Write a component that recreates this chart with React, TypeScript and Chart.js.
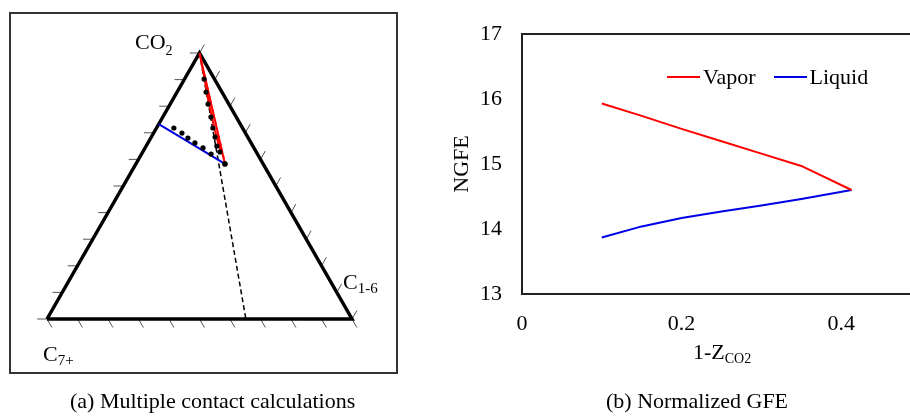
import React, { useEffect, useRef } from 'react';
import { Chart, registerables } from 'chart.js';

Chart.register(...registerables);

const FONT = '"Liberation Serif", "Times New Roman", serif';
const SQ = Math.sqrt(3) / 2;

// ---------- Panel (a): ternary diagram, compositions as fractions ----------
// Vertices: CO2 (top), C7+ (bottom-left), C1-6 (bottom-right); C7+ = 1 - CO2 - C1-6
const triangleCO2 = [0, 1, 0, 0];
const triangleC16 = [0, 0, 1, 0];

const vaporDotCO2 = [0.902, 0.853, 0.808, 0.759, 0.718, 0.684, 0.650, 0.628, 0.583];
const vaporDotC16 = [0.064, 0.095, 0.124, 0.158, 0.185, 0.209, 0.232, 0.253, 0.292];

const liquidDotCO2 = [0.718, 0.699, 0.680, 0.662, 0.643, 0.620, 0.583];
const liquidDotC16 = [0.057, 0.093, 0.122, 0.154, 0.190, 0.228, 0.292];

// red vapor envelope: CO2 apex -> critical point -> back up through vapor compositions
const vaporLoopCO2 = [1.0, 0.583, 0.625, 0.648, 0.683, 0.717, 0.758, 0.807, 0.852, 0.902, 1.0];
const vaporLoopC16 = [0.0, 0.292, 0.262, 0.240, 0.215, 0.190, 0.162, 0.128, 0.098, 0.066, 0.0];
const vaporInnerCO2 = [1.0, 0.605];
const vaporInnerC16 = [0.0, 0.278];

// blue liquid line
const liquidLineCO2 = [0.733, 0.583];
const liquidLineC16 = [0.0, 0.292];

// dilution line CO2 -> oil
const dilutionCO2 = [1.0, 0.0];
const dilutionC16 = [0.0, 0.652];

const tickFractions = [0, 0.1, 0.2, 0.3, 0.4, 0.5, 0.6, 0.7, 0.8, 0.9, 1.0];

// ---------- Panel (b): normalized GFE ----------
const vaporX = [0.1, 0.15, 0.2, 0.25, 0.3, 0.35, 0.413];
const vaporY = [15.93, 15.74, 15.54, 15.35, 15.16, 14.97, 14.6];
const liquidX = [0.1, 0.15, 0.2, 0.25, 0.3, 0.35, 0.413];
const liquidY = [13.87, 14.04, 14.17, 14.27, 14.36, 14.46, 14.6];
const seriesLabels = ['Vapor', 'Liquid'];
const seriesColors = ['#ff0000', '#0000e6'];
const xTickValues = [0, 0.2, 0.4];
const yTickValues = [13, 14, 15, 16, 17];

function toXY(co2: number[], c16: number[]) {
  return co2.map((c, i) => ({ x: c16[i] + 0.5 * c, y: c * SQ }));
}

function tickSegments() {
  const L = 0.032;
  const pts: any[] = [];
  const gap = { x: null, y: null };
  for (const f of tickFractions) {
    const l = { x: 0.5 * f, y: f * SQ }; // C7+ - CO2 edge
    pts.push(l, { x: l.x - L, y: l.y }, gap);
    const r = { x: 1 - 0.5 * f, y: f * SQ }; // CO2 - C1-6 edge
    pts.push(r, { x: r.x + 0.5 * L, y: r.y + SQ * L }, gap);
    const b = { x: f, y: 0 }; // base
    pts.push(b, { x: b.x + 0.5 * L, y: -SQ * L }, gap);
  }
  return pts;
}

const boxPlugin = {
  id: 'plotBox',
  beforeDatasetsDraw(chart: any) {
    const { ctx, chartArea: a } = chart;
    ctx.save();
    ctx.strokeStyle = '#222';
    ctx.lineWidth = 2;
    ctx.strokeRect(a.left, a.top, a.right - a.left, a.bottom - a.top);
    ctx.restore();
  },
};

export default function App() {
  const leftRef = useRef<HTMLCanvasElement>(null);
  const rightRef = useRef<HTMLCanvasElement>(null);

  useEffect(() => {
    const line = (data: any[], color: string, width: number, dash: number[] = []) => ({
      data,
      showLine: true,
      borderColor: color,
      borderWidth: width,
      borderDash: dash,
      pointRadius: 0,
      fill: false,
      tension: 0,
      clip: false,
    });

    const left = new Chart(leftRef.current!, {
      type: 'scatter',
      data: {
        datasets: [
          { data: toXY(vaporDotCO2, vaporDotC16), pointRadius: 2.6, pointBackgroundColor: '#000', pointBorderWidth: 0, showLine: false, clip: false },
          { data: toXY(liquidDotCO2, liquidDotC16), pointRadius: 2.6, pointBackgroundColor: '#000', pointBorderWidth: 0, showLine: false, clip: false },
          line(toXY(vaporLoopCO2, vaporLoopC16), '#ff0000', 2),
          line(toXY(vaporInnerCO2, vaporInnerC16), '#ff0000', 1.2, [4, 3]),
          line(toXY(liquidLineCO2, liquidLineC16), '#0000e6', 2),
          line(toXY(dilutionCO2, dilutionC16), '#000', 1.5, [5, 3]),
          { ...line(toXY(triangleCO2, triangleC16), '#000', 3.5), borderJoinStyle: 'miter' },
          line(tickSegments(), '#555', 1),
        ] as any,
      },
      options: {
        animation: false,
        responsive: false,
        devicePixelRatio: 1,
        layout: { padding: { left: 47, right: 48, top: 53, bottom: 97 } },
        scales: {
          x: { type: 'linear', min: 0, max: 1, display: false },
          y: { type: 'linear', min: 0, max: SQ, display: false },
        },
        plugins: { legend: { display: false }, tooltip: { enabled: false } },
        events: [],
      },
    });

    const right = new Chart(rightRef.current!, {
      type: 'scatter',
      data: {
        datasets: [
          {
            label: seriesLabels[0],
            data: vaporX.map((x, i) => ({ x, y: vaporY[i] })),
            showLine: true,
            borderColor: seriesColors[0],
            borderWidth: 2,
            pointRadius: 0,
            tension: 0,
          },
          {
            label: seriesLabels[1],
            data: liquidX.map((x, i) => ({ x, y: liquidY[i] })),
            showLine: true,
            borderColor: seriesColors[1],
            borderWidth: 2,
            pointRadius: 0,
            tension: 0,
          },
        ],
      },
      options: {
        animation: false,
        responsive: false,
        devicePixelRatio: 1,
        layout: { padding: { left: 0, right: 9, top: 34, bottom: 0 } },
        scales: {
          x: {
            type: 'linear',
            min: 0,
            max: 0.5,
            grid: { display: false, drawTicks: false },
            border: { display: false },
            afterBuildTicks: (s: any) => { s.ticks = xTickValues.map((v) => ({ value: v })); },
            afterFit: (s: any) => { s.height = 46; },
            ticks: {
              padding: 17,
              color: '#000',
              font: { family: FONT, size: 22 },
              callback: (v: any) => String(v),
            },
          },
          y: {
            type: 'linear',
            min: 13,
            max: 17,
            grid: { display: false, drawTicks: false },
            border: { display: false },
            afterBuildTicks: (s: any) => { s.ticks = yTickValues.map((v) => ({ value: v })); },
            afterFit: (s: any) => { s.width = 82; },
            ticks: {
              padding: 20,
              color: '#000',
              font: { family: FONT, size: 22 },
            },
            title: {
              display: true,
              text: 'NGFE',
              color: '#000',
              font: { family: FONT, size: 22 },
              padding: { top: 9, bottom: 0 },
            },
          },
        },
        plugins: { legend: { display: false }, tooltip: { enabled: false } },
        events: [],
      },
      plugins: [boxPlugin],
    });

    return () => {
      left.destroy();
      right.destroy();
    };
  }, []);

  const txt: React.CSSProperties = {
    position: 'absolute',
    fontFamily: FONT,
    fontSize: 22,
    lineHeight: '22px',
    color: '#000',
    whiteSpace: 'nowrap',
  };
  const sub = (size: number, shift: number): React.CSSProperties => ({
    fontSize: size,
    position: 'relative',
    top: shift,
  });

  return (
    <div style={{ position: 'absolute', left: 0, top: 0, width: 910, height: 416, overflow: 'hidden', background: '#fff' }}>
      <div style={{ position: 'absolute', left: 9, top: 12, width: 385, height: 358, border: '2px solid #333' }} />
      <canvas ref={leftRef} width={400} height={416} style={{ position: 'absolute', left: 0, top: 0, width: 400, height: 416 }} />
      <canvas ref={rightRef} width={490} height={340} style={{ position: 'absolute', left: 440, top: 0, width: 490, height: 340 }} />

      <div style={{ ...txt, left: 135, top: 31 }}>CO<span style={sub(14, 6)}>2</span></div>
      <div style={{ ...txt, left: 343, top: 271 }}>C<span style={sub(15, 4)}>1-6</span></div>
      <div style={{ ...txt, left: 43, top: 343 }}>C<span style={sub(15, 4)}>7+</span></div>

      <div style={{ ...txt, left: 693, top: 341 }}>1-Z<span style={sub(14, 4)}>CO2</span></div>

      <div style={{ position: 'absolute', left: 667, top: 66, height: 22, display: 'flex', alignItems: 'center', fontFamily: FONT, fontSize: 22 }}>
        {seriesLabels.map((lab, i) => (
          <div key={lab} style={{ display: 'flex', alignItems: 'center', marginRight: 18 }}>
            <div style={{ width: 33, height: 2, background: seriesColors[i], marginRight: 3 }} />
            <span style={{ lineHeight: '22px' }}>{lab}</span>
          </div>
        ))}
      </div>

      <div style={{ ...txt, left: 70, top: 390 }}>(a) Multiple contact calculations</div>
      <div style={{ ...txt, left: 606, top: 390 }}>(b) Normalized GFE</div>
    </div>
  );
}
